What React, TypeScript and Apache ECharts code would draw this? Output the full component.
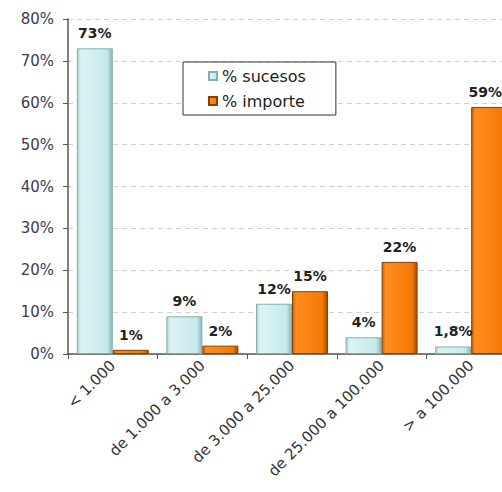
import React, { useEffect, useRef } from "react";
import * as echarts from "echarts";

const categories = ["< 1.000", "de 1.000 a 3.000", "de 3.000 a 25.000", "de 25.000 a 100.000", "> a 100.000"];
const sucesos = [73, 9, 12, 4, 1.8];
const importe = [1, 2, 15, 22, 59];
const sucesosLabels = ["73%", "9%", "12%", "4%", "1,8%"];
const importeLabels = ["1%", "2%", "15%", "22%", "59%"];
const seriesNames = ["% sucesos", "% importe"];

const cyanFill = new echarts.graphic.LinearGradient(0, 0, 1, 0, [
  { offset: 0, color: "#a9d0d3" },
  { offset: 0.1, color: "#dcf3f5" },
  { offset: 0.85, color: "#c6e9ec" },
  { offset: 1, color: "#8db5b8" },
]);
const orangeFill = new echarts.graphic.LinearGradient(0, 0, 1, 0, [
  { offset: 0, color: "#d06000" },
  { offset: 0.1, color: "#ff8c1e" },
  { offset: 0.85, color: "#f57a08" },
  { offset: 1, color: "#a84a00" },
]);

export default function App() {
  const ref = useRef<HTMLDivElement>(null);
  useEffect(() => {
    if (!ref.current) return;
    const chart = echarts.init(ref.current, null, { renderer: "svg" });
    const font = "DejaVu Sans";
    const lastIdx = importe.length - 1;
    chart.setOption({
      animation: false,
      backgroundColor: "#ffffff",
      textStyle: { fontFamily: font },
      grid: { left: 68, top: 19, right: 4, bottom: 138, containLabel: false },
      legend: {
        orient: "vertical",
        left: 183,
        top: 62,
        padding: [5, 30, 5, 25],
        backgroundColor: "#ffffff",
        borderColor: "#333333",
        borderWidth: 1,
        itemWidth: 8,
        itemHeight: 8,
        itemGap: 7,
        icon: "rect",
        textStyle: { fontFamily: font, fontSize: 16, color: "#222222", lineHeight: 18 },
        data: seriesNames,
      },
      xAxis: {
        type: "category",
        data: categories,
        axisLine: { lineStyle: { color: "#555555", width: 1.5 } },
        axisTick: { show: true, length: 5, lineStyle: { color: "#555555" } },
        axisLabel: { rotate: 45, fontSize: 15, color: "#333333", margin: 9, fontFamily: font },
      },
      yAxis: {
        type: "value",
        min: 0,
        max: 80,
        interval: 10,
        axisLine: { show: true, lineStyle: { color: "#555555", width: 1.5 } },
        axisTick: { show: true, length: 5, lineStyle: { color: "#555555" } },
        axisLabel: { formatter: "{value}%", fontSize: 15, color: "#3c3c50", margin: 14, fontFamily: font },
        splitLine: { show: true, lineStyle: { color: "#d0d0d0", type: [5, 4], width: 1 } },
      },
      series: [
        {
          name: seriesNames[0],
          type: "bar",
          data: sucesos,
          barWidth: 36,
          barGap: "0%",
          itemStyle: { color: cyanFill, borderColor: "#86aeb1", borderWidth: 1 },
          label: {
            show: true,
            position: "top",
            distance: 8,
            fontFamily: font,
            fontWeight: "bold",
            fontSize: 14,
            color: "#222222",
            formatter: (p: any) => sucesosLabels[p.dataIndex],
          },
        },
        {
          name: seriesNames[1],
          type: "bar",
          data: importe.map((v, i) => (i === lastIdx ? { value: v, label: { offset: [-4, 0] } } : v)),
          barWidth: 36,
          barGap: "0%",
          itemStyle: { color: orangeFill, borderColor: "#8a3e00", borderWidth: 1 },
          label: {
            show: true,
            position: "top",
            distance: 8,
            fontFamily: font,
            fontWeight: "bold",
            fontSize: 14,
            color: "#222222",
            formatter: (p: any) => importeLabels[p.dataIndex],
          },
        },
      ],
    });
    return () => chart.dispose();
  }, []);
  return (
    <div style={{ position: "absolute", left: 0, top: 0, width: 502, height: 492, overflow: "hidden", background: "#fff" }}>
      <div ref={ref} style={{ width: 520, height: 492 }} />
    </div>
  );
}
